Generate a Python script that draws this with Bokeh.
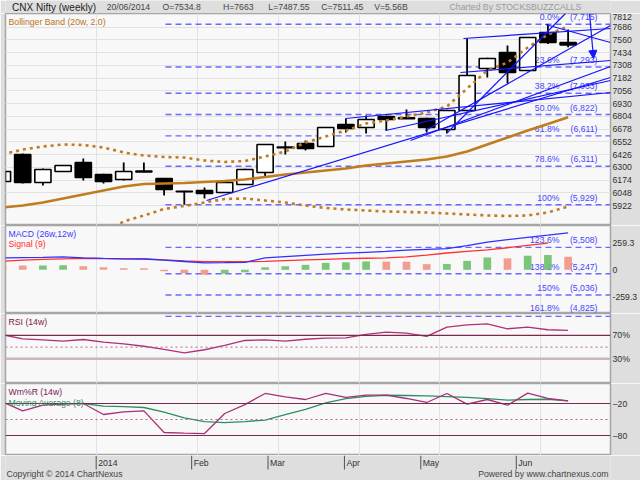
from bokeh.plotting import figure
from bokeh.layouts import column
from bokeh.models import Range1d, FixedTicker, Label, ColumnDataSource, Arrow, NormalHead, Span
from bokeh.core.properties import value
from bokeh.embed import file_html
from bokeh.resources import INLINE

NAN = float("nan")

# ---------------- data ----------------
weeks = list(range(29))
open_ = [6159.5, 6426.7, 6149.6, 6258.5, 6347.5, 6228.8, 6179.3, 6255.0, 6189.2, 6063.0,
         6070.5, 6050.7, 6129.9, 6248.6, 6493.0, 6535.5, 6505.9, 6723.6, 6693.9, 6802.7,
         6790.0, 6782.9, 6674.1, 6862.0, 7277.7, 7436.0, 7257.9, 7633.9, 7534.8]
high = [6278.0, 6436.0, 6288.0, 6322.0, 6387.0, 6236.0, 6347.5, 6347.5, 6195.0, 6068.0,
        6100.0, 6155.0, 6285.0, 6530.0, 6555.0, 6565.0, 6700.0, 6783.0, 6813.0, 6810.0,
        6872.0, 6790.0, 6870.0, 7574.5, 7385.0, 7505.0, 7590.0, 7715.0, 7663.0]
low = [6140.0, 6140.0, 6120.0, 6254.0, 6169.0, 6140.0, 6170.0, 6250.0, 6021.0, 5929.0,
       5991.0, 6045.0, 6125.0, 6199.0, 6427.0, 6466.0, 6500.0, 6644.0, 6634.5, 6664.0,
       6778.0, 6644.0, 6634.5, 6855.0, 7188.6, 7129.0, 7250.0, 7520.0, 7487.55]
close = [6258.5, 6149.6, 6278.3, 6317.9, 6199.1, 6159.5, 6258.5, 6262.0, 6080.4, 6058.0,
         6040.8, 6149.6, 6278.3, 6525.7, 6500.0, 6486.1, 6693.9, 6684.0, 6773.0, 6773.0,
         6780.0, 6693.9, 6862.0, 7208.4, 7376.6, 7238.1, 7584.4, 7535.0, 7511.45]

bb_mid = [5902.3, 5922.1, 5951.7, 5991.3, 6030.9, 6070.5, 6110.1, 6134.8, 6139.7, 6144.7,
          6154.6, 6164.5, 6179.3, 6204.1, 6228.8, 6248.6, 6268.4, 6288.2, 6317.9, 6337.7,
          6357.4, 6377.2, 6406.9, 6456.4, 6525.7, 6594.9, 6664.2, 6728.5, 6795.8]
bb_up = [6426.7, 6476.2, 6505.9, 6525.7, 6520.7, 6496.0, 6446.5, 6416.8, 6402.0, 6397.0,
         6367.3, 6352.5, 6362.4, 6406.9, 6456.4, 6545.4, 6604.8, 6664.2, 6733.4, 6763.1,
         6802.7, 6842.3, 6901.7, 7079.8, 7257.9, 7337.0, 7485.5, 7614.1, 7693.3]
bb_low = [5377.8, 5367.9, 5397.6, 5457.0, 5541.1, 5645.0, 5763.7, 5823.1, 5887.4, 5917.1,
          5951.7, 5986.4, 5991.3, 5971.5, 5951.7, 5922.1, 5897.3, 5882.5, 5872.6, 5862.7,
          5857.7, 5852.8, 5842.9, 5833.0, 5823.1, 5818.1, 5823.1, 5852.8, 5912.2]

macd = [113, 116, 118, 124, 114, 108, 105, 103, 93, 79, 66, 68, 71, 113, 125, 137, 149, 158,
        167, 176, 187, 195, 202, 230, 264, 287, 309, 330, 352]
signal = [81, 93, 99, 104, 108, 107, 105, 104, 95, 86, 78, 78, 78, 80, 88, 94, 100, 106, 110,
          113, 124, 140, 160, 175, 190, 210, 232, 254, NAN]
hist = [47, 41, 42, 43, 34, 24, 16, 14, -13, -32, -47, -38, -23, 24, 34, 47, 66, 71, 80, 78,
        77, 54, 56, 85, 118, 109, 134, 141, 125]

rsi = [71.2, 64.3, 62.6, 60.2, 63.1, 58.5, 55.7, 51.5, 46.0, 40.3, 45.5, 53.0, 61.4, 62.6,
       60.2, 63.5, 65.4, 66.0, 72.0, 75.7, 74.0, 68.3, 84.2, 88.3, 90.0, 81.5, 84.2, 79.8, 78.6]
willr = [-17, -34, -23, -21, -20, -40.6, -35.7, -33.9, -74.4, -75.5, -76.3, -38.8, -22, -1.2,
         -7.6, -12.5, -1.2, -8.7, -4.4, -4.4, -10.6, -18.1, -1.2, -21.3, -12.5, -23.2, -0.5,
         -10.6, -15]
willr_ma = [NAN, NAN, NAN, NAN, -20, -25, -26, -27.5, -36, -47, -54, -56, -54, -51, -41, -31,
            -19, -11, -6.5, -4.5, -5, -5.6, -7, -8.5, -11, -13.7, -12.5, -12, -15]

month_names = ["2014", "Feb", "Mar", "Apr", "May", "Jun"]
month_first_week = [5, 10, 14, 18, 22, 27]
price_ticks = [5922, 6048, 6174, 6300, 6426, 6552, 6678, 6804, 6930, 7056, 7182, 7308, 7434,
               7560, 7686, 7812]
macd_ticks = [-259.3, 0, 259.3]
rsi_ticks = [30, 70]
wr_ticks = [-80, -20]

fib_pct = ["0.0%", "23.6%", "38.2%", "50.0%", "61.8%", "78.6%", "100%", "123.6%", "138.2%",
           "150%", "161.8%"]
fib_val = [7715, 7293, 7033, 6822, 6611, 6311, 5929, 5508, 5247, 5036, 4825]

# trend lines drawn on the chart (week index, price)
tl_x0 = [10.1, 16.98, 18.96, 20.94, 22.03, 20.2, 22.82, 26.88, 22.67]
tl_y0 = [5971.5, 6782.9, 6664.2, 6664.2, 6644.4, 6565.2, 7574.5, 7713.0, 7238.1]
tl_x1 = [30.1, 30.1, 30.1, 30.1, 27.87, 30.1, 30.1, 30.1, 30.1]
tl_y1 = [7188.6, 7040.2, 7158.9, 7703.2, 7821.9, 7297.5, 7673.5, 7535.0, 7356.8]
arrow_from = (29.06, 7821.9)
arrow_to = (29.26, 7376.6)

header_texts = ["CNX Nifty (weekly)", "20/06/2014", "O=7534.8", "H=7663", "L=7487.55",
                "C=7511.45", "V=5.56B"]
credit_text = "Charted By STOCKSBUZZCALLS"
footer_left = "Copyright \u00a9 2014 ChartNexus"
footer_right = "Powered by www.chartnexus.com"

# ---------------- layout / style ----------------
FONT = "Liberation Sans"
OUTER_BG = "#dedede"
PLOT_BG = "#f8f8f8"
GRID = "#e2e2e2"
OUTLINE = "#a6a6a6"
FIB_C = "#5a5aff"
FIB_TXT = "#4646ff"
TL_C = "#1414ff"
BB_C = "#c07c1e"
FS = "8.7px"

W = 640
L_B, R_B = 5, 30
TOP_B = 13
MAIN_H, MACD_H, RSI_H, WR_H, BOT_B = 212, 88, 70, 72, 25
FRAME_W = W - L_B - R_B

X0, X1 = 0.1485, 30.099
MAIN_Y = (5724.1, 7821.9)
MACD_Y = (-416.0, 422.0)
RSI_Y = (-12.4, 107.7)
WR_Y = (-117.5, 17.5)
FIB_X0 = 8.07
TICK_SHIFT = -0.35
month_pos = [w + TICK_SHIFT for w in month_first_week]

xr = Range1d(X0, X1)


def strip(height, xrange):
    p = figure(width=W, height=height, x_range=xrange, y_range=Range1d(0, height),
               output_backend="svg", toolbar_location=None, x_axis_location=None,
               y_axis_location=None, min_border_left=0, min_border_right=0,
               min_border_top=0, min_border_bottom=0, background_fill_color=OUTER_BG,
               border_fill_color=OUTER_BG, outline_line_color=None)
    p.grid.visible = False
    return p


def panel(frame_h, yr):
    p = figure(width=W, height=frame_h, x_range=xr, y_range=Range1d(*yr),
               output_backend="svg", toolbar_location=None, y_axis_location="right",
               x_axis_location=None, min_border_left=L_B, min_border_right=R_B,
               min_border_top=0, min_border_bottom=0,
               background_fill_color=PLOT_BG, border_fill_color=OUTER_BG,
               outline_line_color=OUTLINE, outline_line_width=1.5)
    p.xgrid.ticker = FixedTicker(ticks=month_pos)
    p.xgrid.grid_line_color = GRID
    p.ygrid.visible = False
    ax = p.yaxis[0]
    ax.axis_line_color = None
    ax.major_tick_line_color = None
    ax.minor_tick_line_color = None
    ax.major_tick_out = 0
    ax.major_tick_in = 0
    ax.major_label_standoff = 2
    ax.major_label_text_font = FONT
    ax.major_label_text_font_size = FS
    ax.major_label_text_color = "#303030"
    return p


def legend(p, text, y, color):
    p.add_layout(Label(x=3, y=y, x_units="screen", y_units="screen", text=text,
                       text_font=FONT, text_font_size=FS, text_color=color,
                       text_baseline="top"))


# ---------------- header strip ----------------
ph = strip(TOP_B, Range1d(0, W))
header_x = [7, 107, 166, 230, 278, 334, 390]
ph.text(x=header_x[:1], y=6.2, text=header_texts[:1], text_baseline="middle",
        text_font=value(FONT), text_font_size="10px", text_color="#222222")
ph.text(x=header_x[1:], y=6.2, text=header_texts[1:], text_baseline="middle",
        text_font=value(FONT), text_font_size=FS, text_color="#444444")
ph.text(x=[L_B + FRAME_W - 1], y=6.2, text=[credit_text], text_baseline="middle",
        text_align="right", text_font=value(FONT), text_font_size=FS,
        text_color="#9a9a9a")

# ---------------- panels ----------------
pm = panel(MAIN_H, MAIN_Y)
pm.yaxis.ticker = FixedTicker(ticks=price_ticks)
pm.ygrid.visible = True
pm.ygrid.ticker = FixedTicker(ticks=price_ticks)
pm.ygrid.grid_line_color = GRID

pmacd = panel(MACD_H, MACD_Y)
pmacd.yaxis.ticker = FixedTicker(ticks=macd_ticks)
pmacd.yaxis.major_label_overrides = {259.3: "259.3", 0: "0", -259.3: "-259.3"}

prsi = panel(RSI_H, RSI_Y)
prsi.yaxis.ticker = FixedTicker(ticks=rsi_ticks)
prsi.yaxis.major_label_overrides = {70: "70%", 30: "30%"}

pwr = panel(WR_H, WR_Y)
pwr.yaxis.ticker = FixedTicker(ticks=wr_ticks)


# fib levels, shared across panels through the price scale
def price_px(P):
    return (MAIN_Y[1] - P) * MAIN_H / (MAIN_Y[1] - MAIN_Y[0])


def px_to_val(px, top, h, y0, y1):
    return y1 - (px - top) * (y1 - y0) / h


panels = [(pm, 0, MAIN_H, MAIN_Y),
          (pmacd, MAIN_H, MACD_H, MACD_Y),
          (prsi, MAIN_H + MACD_H, RSI_H, RSI_Y),
          (pwr, MAIN_H + MACD_H + RSI_H, WR_H, WR_Y)]

val_txt = ["({:,})".format(v) for v in fib_val]
for fig, top, h, (y0, y1) in panels:
    ys = [px_to_val(price_px(v), top, h, y0, y1) for v in fib_val]
    fig.segment(x0=FIB_X0, y0=ys, x1=X1, y1=ys, line_color=FIB_C, line_width=1.4,
                line_dash="6 4", line_alpha=0.9)
    ly, lp, lv = [], [], []
    for v, pct, vt in zip(fib_val, fib_pct, val_txt):
        bottom_px = price_px(v) - 2
        centre = bottom_px - 4.5
        if top <= centre < top + h:
            bottom_px = min(bottom_px, top + h - 0.5)
            ly.append(px_to_val(bottom_px, top, h, y0, y1))
            lp.append(pct)
            lv.append(vt)
    if ly:
        fig.text(x=X1, y=ly, text=lv, text_align="right", text_baseline="bottom",
                 x_offset=-13, text_font=value(FONT), text_font_size=FS,
                 text_color=FIB_TXT)
        fig.text(x=X1, y=ly, text=lp, text_align="right", text_baseline="bottom",
                 x_offset=-51, text_font=value(FONT), text_font_size=FS,
                 text_color=FIB_TXT)

# candles
src = ColumnDataSource(dict(
    x=weeks, h=high, l=low,
    top=[max(o, c) for o, c in zip(open_, close)],
    bot=[min(o, c) for o, c in zip(open_, close)],
    fill=["#ffffff" if c >= o else "#000000" for o, c in zip(open_, close)]))
pm.segment(x0="x", y0="h", x1="x", y1="l", source=src, line_color="black", line_width=1.8)
pm.vbar(x="x", width=0.8, top="top", bottom="bot", fill_color="fill", line_color="black",
        line_width=1.6, source=src)

# bollinger
pm.line(weeks, bb_mid, line_color=BB_C, line_width=2.6)
pm.line(weeks, bb_up, line_color=BB_C, line_width=2.6, line_dash="3 4")
pm.line(weeks, bb_low, line_color=BB_C, line_width=2.6, line_dash="3 4")

# trend lines
pm.segment(x0=tl_x0, y0=tl_y0, x1=tl_x1, y1=tl_y1, line_color=TL_C, line_width=1.2)
pm.add_layout(Arrow(end=NormalHead(size=8, fill_color=TL_C, line_color=TL_C),
                    x_start=arrow_from[0], y_start=arrow_from[1],
                    x_end=arrow_to[0], y_end=arrow_to[1], line_color=TL_C, line_width=1.2))
legend(pm, "Bollinger Band (20w, 2.0)", MAIN_H - 3, "#b8741a")

# MACD
rising = [False] + [hist[i] > hist[i - 1] for i in range(1, len(hist))]
hcol = ["#6dc06d" if r else "#ee9484" for r in rising]
pmacd.vbar(x=weeks, width=0.38, top=hist, bottom=0, fill_color=hcol, line_color=None,
           fill_alpha=0.9)
pmacd.line(weeks, signal, line_color="#ff3030", line_width=1.3)
pmacd.line(weeks, macd, line_color="#3030ff", line_width=1.3)
legend(pmacd, "MACD (26w,12w)", MACD_H - 3, "#3a3aff")
legend(pmacd, "Signal (9)", MACD_H - 13, "#ff3030")

# RSI
prsi.add_layout(Span(location=70, dimension="width", line_color="#7b2a4e", line_width=1.2))
prsi.add_layout(Span(location=50, dimension="width", line_color="#b06888", line_width=1,
                     line_dash="2 3"))
prsi.add_layout(Span(location=30, dimension="width", line_color="#cbb6be", line_width=2.5))
prsi.line(weeks, rsi, line_color="#b0307a", line_width=1.3)
legend(prsi, "RSI (14w)", RSI_H - 3.5, "#7a2040")

# Williams %R
pwr.add_layout(Span(location=-20, dimension="width", line_color="#7b2a4e", line_width=1.2))
pwr.add_layout(Span(location=-50, dimension="width", line_color="#b06888", line_width=1,
                    line_dash="2 3"))
pwr.add_layout(Span(location=-80, dimension="width", line_color="#7b2a4e", line_width=1.2))
pwr.line(weeks, willr_ma, line_color="#2a9060", line_width=1.3)
pwr.line(weeks, willr, line_color="#a8307a", line_width=1.3)
legend(pwr, "Wm%R (14w)", WR_H - 3.5, "#7a2050")
legend(pwr, "Moving Average (8)", WR_H - 14.5, "#2a9060")

# ---------------- bottom strip: month ticks, labels, footer ----------------
span_w = (X1 - X0) / FRAME_W
FX0, FX1 = X0 - L_B * span_w, X1 + R_B * span_w
pf = strip(BOT_B, Range1d(FX0, FX1))
pf.segment(x0=month_pos, y0=BOT_B, x1=month_pos, y1=BOT_B - 14, line_color="#505050",
           line_width=1)
pf.text(x=month_pos, y=BOT_B - 7.5, text=month_names, x_offset=2, text_baseline="middle",
        text_font=value(FONT), text_font_size=FS, text_color="#333333")
pf.text(x=[FX0], y=6.3, text=[footer_left], x_offset=1, text_baseline="middle",
        text_font=value(FONT), text_font_size=FS, text_color="#444444")
pf.text(x=[FX1], y=6.3, text=[footer_right], x_offset=-2, text_baseline="middle",
        text_align="right", text_font=value(FONT), text_font_size=FS,
        text_color="#444444")

layout = column(ph, pm, pmacd, prsi, pwr, pf)
open("out.html", "w").write(file_html(layout, INLINE, "CNX Nifty (weekly)"))
